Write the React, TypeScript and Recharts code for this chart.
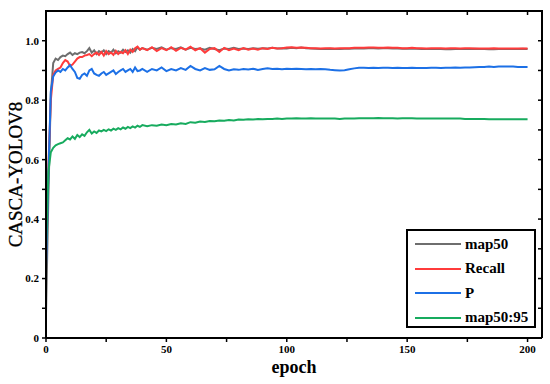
import React from "react";
import { LineChart, Line, XAxis, YAxis, Legend } from "recharts";

const FONT = '"Liberation Serif", "Times New Roman", serif';

// epochs: every epoch up to 40, then every second epoch
const epochs = [
  0, 1, 2, 3, 4, 5, 6, 7, 8, 9, 10, 11, 12, 13, 14, 15, 16, 17, 18, 19, 20,
  21, 22, 23, 24, 25, 26, 27, 28, 29, 30, 31, 32, 33, 34, 35, 36, 37, 38, 39, 40,
  42, 44, 46, 48, 50, 52, 54, 56, 58, 60, 62, 64, 66, 68, 70, 72, 74, 76, 78, 80,
  82, 84, 86, 88, 90, 92, 94, 96, 98, 100, 102, 104, 106, 108, 110, 112, 114, 116, 118, 120,
  122, 124, 126, 128, 130, 132, 134, 136, 138, 140, 142, 144, 146, 148, 150, 152, 154, 156, 158, 160,
  162, 164, 166, 168, 170, 172, 174, 176, 178, 180, 182, 184, 186, 188, 190, 192, 194, 196, 198, 200,
];

const map50 = [
  0.08, 0.48, 0.82, 0.925, 0.94, 0.935, 0.945, 0.95, 0.948, 0.955, 0.96, 0.952, 0.958, 0.955, 0.96, 0.962, 0.958, 0.965, 0.975, 0.96, 0.968,
  0.955, 0.965, 0.96, 0.968, 0.955, 0.965, 0.96, 0.97, 0.958, 0.965, 0.96, 0.97, 0.962, 0.968, 0.96, 0.972, 0.965, 0.978, 0.97, 0.975,
  0.97, 0.976, 0.972, 0.978, 0.97, 0.975, 0.972, 0.978, 0.97, 0.976, 0.972, 0.974, 0.97, 0.976, 0.972, 0.968, 0.974, 0.972, 0.976, 0.972,
  0.974, 0.972, 0.975, 0.973, 0.975, 0.974, 0.976, 0.974, 0.975, 0.974, 0.976, 0.975, 0.977, 0.975, 0.974, 0.973, 0.972, 0.972, 0.973, 0.972,
  0.972, 0.973, 0.973, 0.974, 0.974, 0.974, 0.975, 0.975, 0.974, 0.975, 0.975, 0.974, 0.974, 0.973, 0.973, 0.974, 0.973, 0.972, 0.972, 0.972,
  0.972, 0.972, 0.971, 0.971, 0.972, 0.972, 0.972, 0.972, 0.973, 0.972, 0.972, 0.971, 0.971, 0.972, 0.972, 0.972, 0.972, 0.972, 0.973, 0.972,
];

const recall = [
  0.3, 0.58, 0.8, 0.885, 0.9, 0.905, 0.91, 0.925, 0.935, 0.93, 0.915, 0.92, 0.93, 0.94, 0.945, 0.945, 0.95, 0.952, 0.955, 0.948, 0.955,
  0.96, 0.952, 0.962, 0.95, 0.965, 0.955, 0.96, 0.952, 0.966, 0.955, 0.962, 0.958, 0.968, 0.955, 0.97, 0.962, 0.975, 0.98, 0.97, 0.975,
  0.968, 0.978, 0.965, 0.975, 0.968, 0.978, 0.966, 0.976, 0.97, 0.98, 0.968, 0.975, 0.96, 0.972, 0.975, 0.962, 0.976, 0.968, 0.974, 0.968,
  0.975, 0.97, 0.974, 0.97, 0.975, 0.972, 0.976, 0.974, 0.975, 0.977, 0.978, 0.976, 0.977, 0.976, 0.975, 0.975, 0.974, 0.975, 0.975, 0.974,
  0.975, 0.975, 0.975, 0.976, 0.976, 0.976, 0.977, 0.977, 0.976, 0.976, 0.977, 0.976, 0.976, 0.975, 0.975, 0.976, 0.975, 0.975, 0.974, 0.975,
  0.975, 0.975, 0.974, 0.975, 0.975, 0.974, 0.975, 0.975, 0.974, 0.974, 0.974, 0.974, 0.975, 0.974, 0.974, 0.974, 0.974, 0.974, 0.974, 0.974,
];

const precision = [
  0.24, 0.55, 0.83, 0.88, 0.893, 0.9, 0.895, 0.905, 0.9, 0.91, 0.918, 0.905, 0.895, 0.875, 0.872, 0.885, 0.89, 0.882, 0.9, 0.905, 0.89,
  0.885, 0.882, 0.89, 0.895, 0.885, 0.89, 0.895, 0.9, 0.888, 0.895, 0.9, 0.905, 0.895, 0.9, 0.905, 0.895, 0.91, 0.898, 0.9, 0.905,
  0.895, 0.905, 0.9, 0.91, 0.898, 0.905, 0.9, 0.908, 0.902, 0.915, 0.905, 0.9, 0.908, 0.902, 0.904, 0.915, 0.905, 0.9, 0.904, 0.902,
  0.905, 0.903, 0.906, 0.902, 0.905, 0.907, 0.905, 0.906, 0.904, 0.906, 0.905, 0.906, 0.905, 0.904, 0.905, 0.904, 0.905, 0.904, 0.902, 0.901,
  0.9, 0.901, 0.904, 0.907, 0.909, 0.909, 0.908, 0.909, 0.908, 0.909, 0.909, 0.908, 0.909, 0.908, 0.908, 0.909, 0.908, 0.908, 0.908, 0.909,
  0.909, 0.908, 0.909, 0.909, 0.91, 0.909, 0.91, 0.91, 0.911, 0.912, 0.912, 0.913, 0.912, 0.913, 0.913, 0.913, 0.913, 0.912, 0.912, 0.912,
];

const map5095 = [
  0.3, 0.56, 0.625, 0.64, 0.648, 0.652, 0.655, 0.658, 0.665, 0.672, 0.668, 0.678, 0.67, 0.683, 0.676, 0.685, 0.68, 0.692, 0.7, 0.688, 0.695,
  0.69, 0.698, 0.695, 0.7, 0.696, 0.702, 0.698, 0.704, 0.7, 0.706, 0.702, 0.708, 0.704, 0.71, 0.706, 0.712, 0.708, 0.714, 0.71, 0.716,
  0.712, 0.716, 0.714, 0.718, 0.716, 0.72, 0.718, 0.722, 0.72, 0.726, 0.724, 0.728, 0.727, 0.73, 0.729, 0.732, 0.731, 0.733, 0.732, 0.735,
  0.734, 0.736, 0.735, 0.737, 0.736, 0.737, 0.737, 0.738, 0.737, 0.738, 0.738, 0.739, 0.738, 0.738, 0.739, 0.738, 0.738, 0.738, 0.738, 0.738,
  0.737, 0.738, 0.738, 0.738, 0.739, 0.739, 0.739, 0.739, 0.74, 0.739, 0.739, 0.739, 0.738, 0.739, 0.739, 0.739, 0.738, 0.738, 0.738, 0.738,
  0.738, 0.738, 0.738, 0.738, 0.738, 0.738, 0.737, 0.737, 0.737, 0.737, 0.737, 0.736, 0.736, 0.736, 0.736, 0.736, 0.736, 0.736, 0.736, 0.736,
];

const X_MAX = 206;
const Y_MAX = 1.1;
const xTicks = [0, 25, 50, 75, 100, 125, 150, 175, 200];
const yTicks = [0, 0.1, 0.2, 0.3, 0.4, 0.5, 0.6, 0.7, 0.8, 0.9, 1.0];

const series = [
  { key: "map50", name: "map50", color: "#6e6e6e" },
  { key: "recall", name: "Recall", color: "#ff3b3b" },
  { key: "p", name: "P", color: "#1c70e6" },
  { key: "map5095", name: "map50:95", color: "#17ab5e" },
];

const data = epochs.map((epoch, i) => ({
  epoch,
  map50: map50[i],
  recall: recall[i],
  p: precision[i],
  map5095: map5095[i],
}));

const W = 550;
const H = 384;
const MARGIN = { top: 11, right: 8, bottom: 0, left: 0 };
const Y_AXIS_W = 46;
const X_AXIS_H = 46;

// plot box, derived from the layout above
const PLOT_L = MARGIN.left + Y_AXIS_W;
const PLOT_T = MARGIN.top;
const PLOT_R = W - MARGIN.right;
const PLOT_B = H - MARGIN.bottom - X_AXIS_H;

const axisLine = { stroke: "#000", strokeWidth: 2 };
const tickLine = { stroke: "#000", strokeWidth: 1.5 };
const tickStyle = { fill: "#000", fontSize: 11, fontWeight: "bold", fontFamily: FONT };

function YLabel(props: any) {
  const { viewBox } = props;
  const cx = 15;
  const cy = viewBox.y + viewBox.height / 2;
  return (
    <text
      x={cx}
      y={cy}
      transform={`rotate(-90 ${cx} ${cy})`}
      textAnchor="middle"
      dominantBaseline="central"
      fontFamily={FONT}
      fontSize={19}
      fill="#000"
      stroke="#000"
      strokeWidth={0.3}
    >
      CASCA-YOLOV8
    </text>
  );
}

// legend content covers the plot box: draws the top/right frame with inward ticks
// and the boxed legend in the lower right corner
function FrameAndLegend() {
  const boxW = PLOT_R - PLOT_L + 2;
  const boxH = PLOT_B - PLOT_T + 2;
  const sx = (v: number) => 1 + (v / X_MAX) * (PLOT_R - PLOT_L);
  const sy = (v: number) => 1 + (PLOT_B - PLOT_T) - (v / Y_MAX) * (PLOT_B - PLOT_T);
  return (
    <div style={{ position: "relative", width: boxW, height: boxH }}>
      <div
        style={{
          position: "absolute",
          left: 0,
          top: 0,
          width: boxW,
          height: boxH - 1,
          boxSizing: "border-box",
          borderTop: "2px solid #000",
          borderRight: "2px solid #000",
        }}
      />
      <svg width={boxW} height={boxH} style={{ position: "absolute", left: 0, top: 0 }}>
        {xTicks.map((t) => (
          <line key={"tx" + t} x1={sx(t)} y1={1} x2={sx(t)} y2={5} stroke="#000" strokeWidth={1.5} />
        ))}
        {yTicks.map((t) => (
          <line key={"ty" + t} x1={boxW - 1} y1={sy(t)} x2={boxW - 5} y2={sy(t)} stroke="#000" strokeWidth={1.5} />
        ))}
      </svg>
      <div
        style={{
          position: "absolute",
          left: 406 - (PLOT_L - 1),
          top: 229 - (PLOT_T - 1),
          width: 130,
          height: 99,
          boxSizing: "border-box",
          border: "2px solid #000",
          background: "#fff",
          paddingTop: 1,
          paddingLeft: 7,
          fontFamily: FONT,
          fontWeight: "bold",
          fontSize: 15,
          color: "#000",
        }}
      >
        {series.map((s) => (
          <div key={s.key} style={{ display: "flex", alignItems: "center", height: 24.5 }}>
            <span style={{ display: "inline-block", width: 46, height: 2, background: s.color, marginRight: 4 }} />
            <span>{s.name}</span>
          </div>
        ))}
      </div>
    </div>
  );
}

export default function App() {
  return (
    <div style={{ position: "absolute", left: 0, top: 0, width: W, height: H, background: "#fff" }}>
      <LineChart width={W} height={H} data={data} margin={MARGIN}>
        <XAxis
          dataKey="epoch"
          type="number"
          domain={[0, X_MAX]}
          ticks={xTicks}
          interval={0}
          tickFormatter={(v: number) => (v % 50 === 0 ? String(v) : "")}
          tickSize={4}
          tickMargin={3}
          height={X_AXIS_H}
          axisLine={axisLine}
          tickLine={tickLine}
          tick={tickStyle}
          label={{
            value: "epoch",
            position: "insideBottom",
            offset: 11,
            fill: "#000",
            fontSize: 18,
            fontWeight: "bold",
            fontFamily: FONT,
          }}
        />
        <YAxis
          type="number"
          domain={[0, Y_MAX]}
          ticks={yTicks}
          interval={0}
          width={Y_AXIS_W}
          tickFormatter={(v: number) => {
            const t = Math.round(v * 10);
            if (t % 2 !== 0) return "";
            return t === 0 ? "0" : v.toFixed(1);
          }}
          tickSize={4}
          tickMargin={3}
          axisLine={axisLine}
          tickLine={tickLine}
          tick={tickStyle}
          label={<YLabel />}
        />
        <Legend
          layout="horizontal"
          verticalAlign="middle"
          align="center"
          wrapperStyle={{
            left: PLOT_L - 1,
            top: PLOT_T - 1,
            width: PLOT_R - PLOT_L + 2,
            height: PLOT_B - PLOT_T + 2,
            pointerEvents: "none",
          }}
          content={() => <FrameAndLegend />}
        />
        {series.map((s) => (
          <Line
            key={s.key}
            type="linear"
            dataKey={s.key}
            name={s.name}
            stroke={s.color}
            strokeWidth={2}
            dot={false}
            isAnimationActive={false}
          />
        ))}
      </LineChart>
    </div>
  );
}
